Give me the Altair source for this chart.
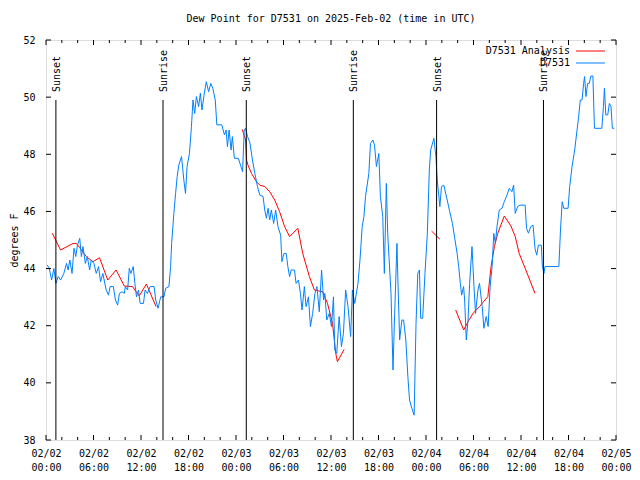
import altair as alt
import pandas as pd

# ---- observed dew point (D7531), hours since 2025-02-02 00:00 UTC ----
obs_hour = [0.16, 0.41, 0.71, 1.0, 1.25, 1.54, 1.84, 2.25, 2.59, 2.79, 3.01, 3.29, 3.54, 3.76, 3.97,
            4.26, 4.47, 4.67, 4.97, 5.22, 5.51, 5.72, 6.05, 6.35, 6.64, 6.89, 7.18, 7.6, 7.89, 8.1,
            8.51, 8.77, 9.05, 9.27, 9.6, 9.89, 10.02, 10.31, 10.52, 10.73, 11.02, 11.23, 11.43, 11.68,
            11.9, 12.31, 12.52, 12.81, 13.15, 13.65, 13.86, 14.15, 14.49, 14.9, 15.11, 15.53,
            15.74, 15.87, 16.15, 16.37, 16.57, 16.78, 17.12, 17.41, 17.62, 17.82, 18.12, 18.37, 18.57,
            18.78, 19.0, 19.28, 19.5, 19.7, 20.0, 20.25, 20.54, 20.82, 21.07, 21.38, 21.58, 22.2,
            22.54, 22.75, 22.92, 23.13, 23.38, 23.54, 23.79, 24.29, 24.63, 24.83, 25.04, 25.21, 25.46,
            25.76, 26.08, 26.38, 26.71, 27.01, 27.42, 27.63, 27.84, 28.05, 28.26, 28.46, 28.76, 29.01,
            29.3, 29.64, 29.8, 30.05, 30.34, 30.55, 30.77, 30.97, 31.39, 31.59, 31.89, 32.14, 32.34,
            32.64, 32.85, 33.15, 33.4, 33.68, 33.97, 34.22, 34.52, 34.81, 35.06, 35.22, 35.47, 35.78,
            36.06, 36.31, 36.48, 36.73, 37.03, 37.32, 37.57, 37.85, 38.15, 38.48, 38.7, 39.0, 39.41,
            39.66, 39.94, 40.16, 40.36, 40.78, 40.99, 41.29, 41.49, 41.74, 42.04, 42.24, 42.54, 42.74,
            42.99, 43.16, 43.58, 43.83, 43.99, 44.33, 44.45, 44.67, 44.95, 45.17, 45.45, 45.71, 45.92,
            46.21, 46.5, 46.74, 46.96, 47.17, 47.33, 47.58, 47.87, 48.17, 48.42, 48.59, 49.0, 49.25,
            49.42, 49.75, 49.96, 50.25, 50.68, 51.0, 51.34, 51.63, 51.93, 52.13, 52.34, 52.5, 52.75,
            52.88, 53.09, 53.31, 53.51, 53.81, 54.06, 54.26, 54.56, 54.76, 55.1, 55.31, 55.6, 55.85,
            56.1, 56.35, 56.56, 56.76, 56.97, 57.26, 57.6, 57.89, 58.23, 58.52, 58.85, 59.07, 59.27,
            59.57, 59.86, 60.52, 60.7, 60.94, 61.23, 61.52, 61.77, 61.98, 62.2, 62.57, 62.7, 62.9,
            63.03, 64.78, 64.99, 65.2, 65.4, 65.95, 66.15, 66.45, 66.78, 67.08, 67.28, 67.49, 67.71,
            67.91, 68.03, 68.21, 68.41, 68.62, 68.83, 69.08, 69.28, 70.21, 70.41, 70.54, 70.71, 70.96,
            71.16, 71.37, 71.54, 71.79]
obs_dewpt = [44.12, 44.01, 43.6, 44.0, 43.48, 43.72, 43.6, 43.83, 44.18, 43.95, 44.3, 43.83, 44.71, 44.42, 44.82,
             45.06, 44.42, 44.77, 44.18, 44.42, 43.95, 44.3, 44.18, 43.83, 44.07, 43.54, 43.83, 43.25, 43.07, 43.37,
             43.37, 42.9, 42.72, 43.13, 43.19, 43.13, 43.37, 43.25, 44.01, 43.83, 44.07, 43.48, 43.01, 43.25,
             42.78, 42.78, 43.25, 43.13, 43.37, 43.37, 42.9, 42.61, 43.01, 43.01, 43.31, 43.37,
             44.07, 44.88, 45.93, 46.63, 47.22, 47.63, 47.92, 47.1, 46.63, 47.57, 48.03, 48.97, 49.9,
             49.43, 50.02, 49.67, 50.14, 49.55, 50.14, 50.54, 50.19, 50.48, 50.31, 49.9, 49.03, 49.03,
             48.68, 48.85, 48.27, 48.85, 48.15, 48.62, 47.86, 47.86, 47.57, 47.39, 48.85, 48.91, 48.62,
             48.4, 47.8, 47.33, 46.87, 46.57, 46.52, 46.05, 45.76, 46.11, 45.7, 46.05, 45.58, 46.05,
             45.47, 45.17, 44.24, 44.53, 44.53, 44.07, 43.72, 43.95, 43.95, 43.48, 43.6, 43.13, 42.55,
             43.37, 42.67, 43.01, 41.97, 42.43, 43.13, 43.37, 42.49, 43.95, 42.9, 43.13, 42.2, 42.43,
             41.97, 43.01, 41.15, 41.03, 42.32, 41.27, 41.73, 43.25, 42.67, 41.62, 43.25, 42.78, 43.48,
             44.3, 45.47, 45.82, 46.52, 47.33, 48.38, 48.5, 48.33, 47.57, 48.03, 46.52, 45.82, 43.83,
             46.98, 45.24, 43.13, 40.45, 41.97, 44.88, 43.6, 41.5, 42.2, 42.2, 41.5, 40.22, 39.4,
             39.11, 38.87, 42.08, 43.83, 43.95, 42.26, 42.26, 43.83, 45.24, 47.45, 48.15, 48.56, 47.92,
             47.1, 46.17, 46.87, 46.92, 46.4, 45.99, 45.58, 45.06, 44.53, 44.07, 43.48, 43.07, 43.37,
             42.9, 41.5, 42.2, 43.48, 44.77, 43.37, 42.43, 43.25, 43.48, 42.67, 41.91, 42.32, 41.97,
             43.37, 44.07, 45.23, 44.88, 45.47, 46.05, 46.11, 46.34, 46.57, 46.81, 46.69, 46.92, 45.93,
             46.17, 46.22, 46.22, 45.41, 45.24, 45.47, 45.52, 44.71, 44.47, 44.82, 44.82, 44.07, 43.83,
             44.07, 44.07, 45.35, 46.34, 46.11, 46.11, 46.87, 47.57, 48.15, 48.85, 49.31, 49.9, 49.9,
             50.48, 50.72, 50.02, 50.48, 50.48, 50.74, 50.74, 48.91, 48.91, 49.67, 50.31, 49.38, 49.38,
             49.78, 49.67, 48.91, 48.91]

# ---- analysis dew point (D7531 Analysis), segments with gaps ----
ana_seg = [1] * 15 + [2] * 23 + [3] * 2 + [4] * 15
ana_hour = [0.79, 1.84, 3.42, 3.84, 4.26, 5.1, 5.92, 6.76, 7.8, 8.85, 9.89, 10.93, 11.77, 12.68, 13.9,
            24.79, 25.21, 25.33, 25.54, 25.96, 26.58, 27.01, 27.64, 28.26, 28.89, 29.51, 30.14, 30.77,
            31.81, 32.43, 33.27, 33.9, 34.94, 35.56, 36.19, 36.6, 36.81, 37.65,
            48.71, 49.75,
            51.75, 52.76, 53.31, 53.93, 54.76, 55.81, 56.22, 56.64, 57.06, 57.89, 58.73, 59.27, 59.77,
            60.61, 61.77]
ana_dewpt = [45.24, 44.65, 44.88, 44.88, 44.73, 44.42, 44.24, 44.38, 43.6, 43.95, 43.39, 43.37, 43.04, 43.46, 42.67,
             48.87, 48.5, 47.8, 47.6, 47.33, 47.04, 46.92, 46.87, 46.69, 46.4, 45.99, 45.47, 45.12,
             45.41, 44.53, 43.72, 43.25, 43.19, 42.78, 42.08, 41.03, 40.74, 41.17,
             45.31, 45.03,
             42.55, 41.85, 42.14, 42.43, 42.67, 43.02, 44.07, 44.77, 45.23, 45.84, 45.49, 45.12, 44.53,
             43.95, 43.13]

sun_hour = [1.25, 14.78, 25.3, 38.82, 49.34, 62.84]
sun_label = ["Sunset", "Sunrise", "Sunset", "Sunrise", "Sunset", "Sunrise"]

x_major = list(range(0, 73, 6))
x_minor = [h for h in range(0, 73, 2) if h % 6]
y_ticks = list(range(38, 53, 2))
legend_labels = ["D7531 Analysis", "D7531"]
title_text = "Dew Point for D7531 on 2025-Feb-02 (time in UTC)"

FONT = "DejaVu Sans Mono"
W, H = 570, 400
RED = "#ff0000"
BLUE = "#0080ff"

obs = pd.DataFrame({"hour": obs_hour, "dewpt": obs_dewpt})
ana = pd.DataFrame({"seg": ana_seg, "hour": ana_hour, "dewpt": ana_dewpt})
sun = pd.DataFrame({"hour": sun_hour, "label": sun_label})
xmaj = pd.DataFrame({"hour": x_major})
xmin = pd.DataFrame({"hour": x_minor})
yt = pd.DataFrame({"dewpt": y_ticks})
leg1 = pd.DataFrame({"label": [legend_labels[0]]})
leg2 = pd.DataFrame({"label": [legend_labels[1]]})

xs = alt.Scale(domain=[0, 72], nice=False, zero=False)
ys = alt.Scale(domain=[38, 52], nice=False, zero=False)

x_axis = alt.Axis(
    values=x_major,
    labelExpr="['02/0' + (2 + floor(datum.value / 24)), (datum.value % 24 < 10 ? '0' : '') + (datum.value % 24) + ':00']",
    ticks=False, domain=False, grid=False, title=None,
    labelFont=FONT, labelFontSize=10, labelColor="black", labelAngle=0,
    labelPadding=8, labelLineHeight=14, labelOverlap=False, labelFlush=False, labelBound=False,
)
y_axis = alt.Axis(
    values=y_ticks, ticks=False, domain=False, grid=False, title="degrees F",
    labelFont=FONT, labelFontSize=10, labelColor="black", labelPadding=11,
    titleFont=FONT, titleFontSize=10, titleFontWeight="normal", titleColor="black",
    titleX=-32, titleY=H / 2, titleAngle=270, titleAlign="center", titleBaseline="middle",
)


def X(field="hour:Q"):
    return alt.X(field, scale=xs, axis=x_axis)


def Y(field="dewpt:Q"):
    return alt.Y(field, scale=ys, axis=y_axis)


ana_line = alt.Chart(ana).mark_line(color=RED, strokeWidth=1).encode(
    x=X(), y=Y(), detail="seg:N",
)
obs_line = alt.Chart(obs).mark_line(color=BLUE, strokeWidth=1).encode(
    x=X(), y=Y(),
)
sun_rules = alt.Chart(sun).mark_rule(color="black", strokeWidth=1).encode(
    x=X(), y=alt.value(H * 0.15), y2=alt.value(H),
)
sun_text = alt.Chart(sun).mark_text(
    angle=270, align="left", baseline="middle", font=FONT, fontSize=10, color="black", dy=1
).encode(
    x=X(), y=alt.value(H * 0.13), text="label:N",
)

tick_major_b = alt.Chart(xmaj).mark_rule(color="black").encode(
    x=X(), y=alt.value(H), y2=alt.value(H - 5))
tick_major_t = alt.Chart(xmaj).mark_rule(color="black").encode(
    x=X(), y=alt.value(0), y2=alt.value(5))
tick_minor_b = alt.Chart(xmin).mark_rule(color="black").encode(
    x=X(), y=alt.value(H), y2=alt.value(H - 3))
tick_minor_t = alt.Chart(xmin).mark_rule(color="black").encode(
    x=X(), y=alt.value(0), y2=alt.value(3))
tick_y_l = alt.Chart(yt).mark_rule(color="black").encode(
    y=Y(), x=alt.value(0), x2=alt.value(5))
tick_y_r = alt.Chart(yt).mark_rule(color="black").encode(
    y=Y(), x=alt.value(W), x2=alt.value(W - 5))

LX = W - 46
leg_t1 = alt.Chart(leg1).mark_text(align="right", baseline="middle", font=FONT, fontSize=10, color="black").encode(
    x=alt.value(LX), y=alt.value(11), text="label:N")
leg_t2 = alt.Chart(leg2).mark_text(align="right", baseline="middle", font=FONT, fontSize=10, color="black").encode(
    x=alt.value(LX), y=alt.value(23), text="label:N")
leg_l1 = alt.Chart(leg1).mark_rule(color=RED, strokeWidth=1).encode(
    x=alt.value(LX + 6), x2=alt.value(LX + 35), y=alt.value(11))
leg_l2 = alt.Chart(leg2).mark_rule(color=BLUE, strokeWidth=1).encode(
    x=alt.value(LX + 6), x2=alt.value(LX + 35), y=alt.value(23))

chart = alt.layer(
    ana_line, obs_line, sun_rules, sun_text,
    tick_major_b, tick_major_t, tick_minor_b, tick_minor_t, tick_y_l, tick_y_r,
    leg_t1, leg_t2, leg_l1, leg_l2,
).properties(
    width=W, height=H,
    title=alt.TitleParams(title_text, font=FONT, fontSize=10, fontWeight="normal",
                          color="black", anchor="middle", offset=11),
    autosize=alt.AutoSizeParams(type="none"),
    padding={"left": 38, "top": 32, "right": 16, "bottom": 32},
).configure_view(stroke="black", strokeWidth=1).configure(background="white")

chart.save("out.html", embed_options={"renderer": "svg", "actions": False})
